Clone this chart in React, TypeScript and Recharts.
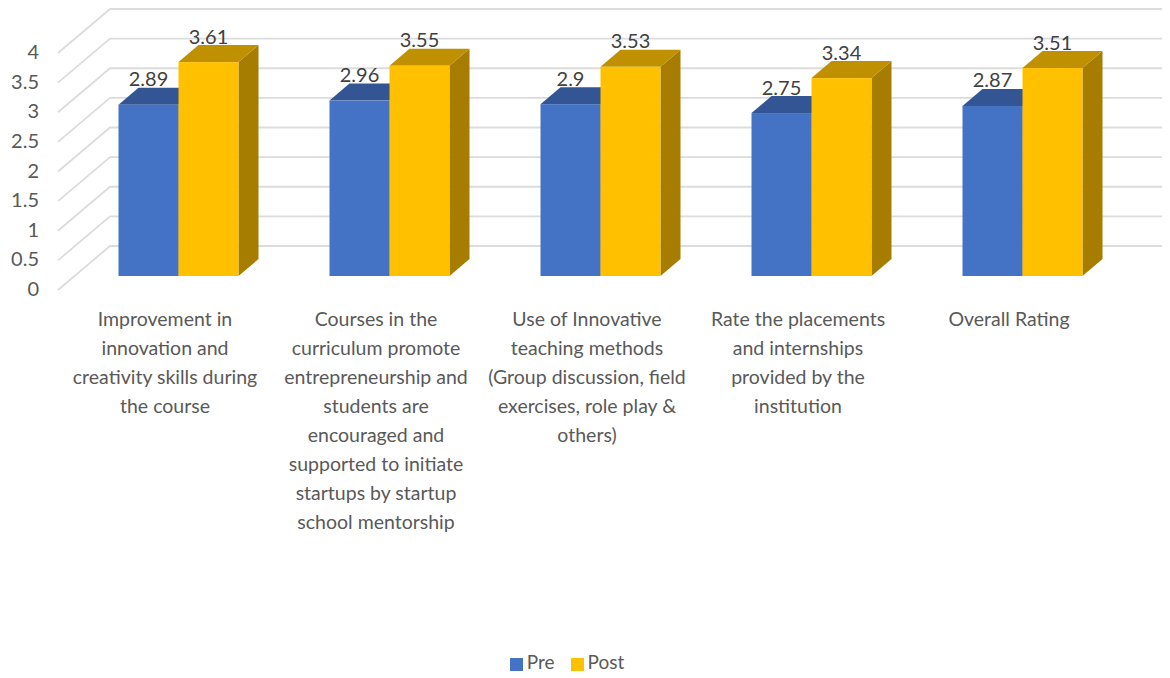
import { Bar, CartesianGrid, ComposedChart, LabelList, Legend, XAxis, YAxis } from "recharts";

const categories = [
  "Improvement in\ninnovation and\ncreativity skills during\nthe course",
  "Courses in the\ncurriculum promote\nentrepreneurship and\nstudents are\nencouraged and\nsupported to initiate\nstartups by startup\nschool mentorship",
  "Use of Innovative\nteaching methods\n(Group discussion, field\nexercises, role play &\nothers)",
  "Rate the placements\nand internships\nprovided by the\ninstitution",
  "Overall Rating",
];
const preValues = [2.89, 2.96, 2.9, 2.75, 2.87];
const postValues = [3.61, 3.55, 3.53, 3.34, 3.51];
const yTicks = [0, 0.5, 1, 1.5, 2, 2.5, 3, 3.5, 4];

const chartData = categories.map((name, i) => ({ name, pre: preValues[i], post: postValues[i] }));

const FONT = "Lato, sans-serif";
const GRID = "#dcdcdc";

// fake 3D depth of the walls and of the bars
const WALL_DX = 37.5;
const WALL_DY = -30;
const FLOOR_DX = -14.5;
const FLOOR_DY = 14;
const BAR_DX = 20;
const BAR_DY = -17;

function gridLine(p: any) {
  const d = `M${p.x1 + FLOOR_DX},${p.y1 + FLOOR_DY}L${p.x1 + WALL_DX},${p.y1 + WALL_DY}L${p.x2 + WALL_DX},${p.y1 + WALL_DY}`;
  return <path key={p.key ?? p.y1} d={d} fill="none" stroke={GRID} strokeWidth={1.8} />;
}

function Bar3D(props: any) {
  const { x, y, width, height, front, top, side } = props;
  const r = x + width;
  const b = y + height;
  return (
    <g>
      <path d={`M${r},${y}L${r + BAR_DX},${y + BAR_DY}L${r + BAR_DX},${b + BAR_DY}L${r},${b}Z`} fill={side} />
      <path d={`M${x},${y}L${x + BAR_DX},${y + BAR_DY}L${r + BAR_DX},${y + BAR_DY}L${r},${y}Z`} fill={top} />
      <rect x={x} y={y} width={width} height={height} fill={front} />
    </g>
  );
}

function YTick({ y, payload }: any) {
  return (
    <text x={39} y={y + 13} dy={7} textAnchor="end" fontFamily={FONT} fontSize={20} fill="#595959">
      {payload.value}
    </text>
  );
}

function XTick({ x, payload }: any) {
  const lines = String(payload.value).split("\n");
  return (
    <text textAnchor="middle" fontFamily={FONT} fontSize={19.5} fill="#595959">
      {lines.map((line, i) => (
        <tspan key={i} x={x - 13} y={326 + i * 29}>
          {line}
        </tspan>
      ))}
    </text>
  );
}

function ValueLabel({ x, y, width, value }: any) {
  return (
    <text x={x + width / 2} y={y - 18.5} textAnchor="middle" fontFamily={FONT} fontSize={20} fill="#404040">
      {value}
    </text>
  );
}

export default function App() {
  return (
    <div style={{ margin: "-8px 0 0 -8px", width: 1170, height: 678, overflow: "hidden" }}>
      <ComposedChart
        width={1170}
        height={678}
        data={chartData}
        margin={{ top: 39, right: 42.5, bottom: 342, left: 0 }}
        barSize={60}
        barGap={0}
        barCategoryGap={45.5}
      >
        <CartesianGrid vertical={false} horizontal={gridLine} />
        <XAxis dataKey="name" axisLine={false} tickLine={false} height={60} interval={0} tick={<XTick />} />
        <YAxis width={72.5} domain={[0, 4]} ticks={yTicks} axisLine={false} tickLine={false} tick={<YTick />} />
        <Bar dataKey="pre" name="Pre" fill="#4472c4" isAnimationActive={false}
          shape={(p: any) => <Bar3D {...p} front="#4472c4" top="#335593" side="#264478" />}>
          <LabelList dataKey="pre" content={<ValueLabel />} />
        </Bar>
        <Bar dataKey="post" name="Post" fill="#ffc000" isAnimationActive={false}
          shape={(p: any) => <Bar3D {...p} front="#ffc000" top="#bf9000" side="#a67d00" />}>
          <LabelList dataKey="post" content={<ValueLabel />} />
        </Bar>
        <Legend
          layout="horizontal"
          align="center"
          verticalAlign="middle"
          iconType="square"
          iconSize={13}
          itemSorter={null as any}
          wrapperStyle={{ top: 650, left: 0, width: 1150, fontFamily: FONT, fontSize: 19 }}
          formatter={(v: string) => <span style={{ color: "#595959", marginRight: 6 }}>{v}</span>}
        />
      </ComposedChart>
    </div>
  );
}
